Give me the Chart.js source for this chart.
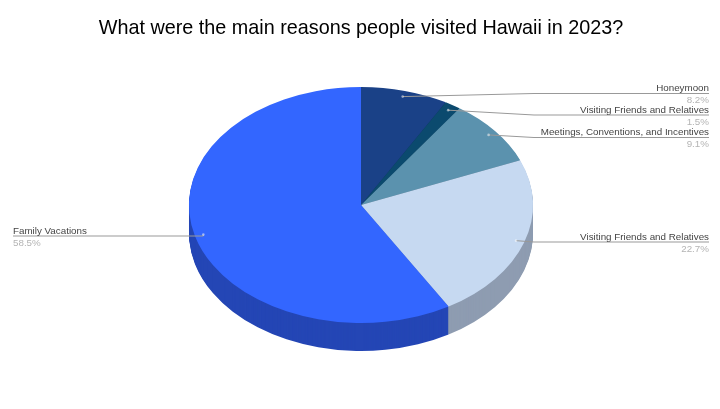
<!DOCTYPE html>
<html><head><meta charset="utf-8">
<style>html,body{margin:0;padding:0;background:#fff;width:720px;height:409px;overflow:hidden}
canvas{display:block;filter:blur(0.5px)}</style>
<script src="https://cdn.jsdelivr.net/npm/chart.js@4"></script></head>
<body><canvas id="c" width="720" height="409"></canvas>
<script>
const titleText = 'What were the main reasons people visited Hawaii in 2023?';
const categories = ['Honeymoon','Visiting Friends and Relatives','Meetings, Conventions, and Incentives','Visiting Friends and Relatives','Family Vacations'];
const shares = [8.2,1.5,9.1,22.7,58.5];
const faceColors = ['#1a4187','#0b4a6e','#5b92ae','#c6d9f1','#3366ff'];
const sideColors = ['#122e60','#08344e','#41677b','#8e9cb1','#2446b5'];
const labelLineY = [93.5,115,137.5,242,236];
const labelSide = ['right','right','right','right','left'];
const centerY = 205, radiusY = 118, depth = 28, textRight = 709, textLeft = 13;

const pie3d = {
  id:'pie3d',
  beforeDatasetDraw(chart,args){
    const ctx = chart.ctx, arcs = args.meta.data, a0 = arcs[0], sy = radiusY/a0.outerRadius;
    for(let d=depth; d>=1; d--){
      ctx.save();
      ctx.translate(a0.x, centerY+d); ctx.scale(1,sy); ctx.translate(-a0.x,-a0.y);
      arcs.forEach((a,i)=>{
        const o = a.options;
        a.options = Object.assign({}, o, {backgroundColor:sideColors[i], borderColor:sideColors[i], borderWidth:0, offset:o.offset||0, spacing:o.spacing||0, borderRadius:o.borderRadius||0, circular:true, borderAlign:o.borderAlign||'center', borderJoinStyle:o.borderJoinStyle||'round', borderDash:[], borderDashOffset:0, selfJoin:false});
        a.draw(ctx);
        a.options = o;
      });
      ctx.restore();
    }
    ctx.save();
    ctx.translate(a0.x, centerY); ctx.scale(1,sy); ctx.translate(-a0.x,-a0.y);
  },
  afterDatasetDraw(chart,args){
    const ctx = chart.ctx, arcs = args.meta.data;
    ctx.restore();
    const sy = radiusY/arcs[0].outerRadius;
    arcs.forEach((a,i)=>{
      const mid = (a.startAngle+a.endAngle)/2, r = a.outerRadius*0.95;
      const ax = a.x + Math.cos(mid)*r, ay = centerY + Math.sin(mid)*r*sy;
      const ly = labelLineY[i], right = labelSide[i]==='right';
      const ex = right ? textRight : textLeft;
      ctx.strokeStyle = '#999999'; ctx.lineWidth = 1;
      ctx.beginPath(); ctx.moveTo(ax,ay);
      if(right){ ctx.lineTo(Math.max(ax, ex-175),ly); } else { ctx.lineTo(ax,ly); }
      ctx.lineTo(ex,ly);
      ctx.stroke();
      ctx.fillStyle = 'rgba(255,255,255,0.5)';
      ctx.beginPath(); ctx.arc(ax,ay,1.3,0,Math.PI*2); ctx.fill();
      ctx.textAlign = labelSide[i]; ctx.textBaseline='alphabetic';
      ctx.font = '9.8px "Liberation Sans", Arial, sans-serif';
      ctx.fillStyle = '#444444'; ctx.fillText(categories[i], ex, ly-2.5);
      ctx.fillStyle = '#b4b4b4'; ctx.fillText(shares[i].toFixed(1)+'%', ex, ly+9.5);
    });
  }
};
new Chart(document.getElementById('c'),{
  type:'pie',
  data:{labels:categories,datasets:[{data:shares,backgroundColor:faceColors,borderWidth:0,clip:false}]},
  plugins:[pie3d],
  options:{
    responsive:false,animation:false,devicePixelRatio:1,
    layout:{padding:{left:2,right:0,top:0,bottom:24.6}},
    plugins:{legend:{display:false},tooltip:{enabled:false},
      title:{display:true,text:titleText,color:'#000',font:{family:'"Liberation Sans", Arial, sans-serif',size:19.8,weight:'normal'},padding:{top:16.5,bottom:0}}}
  }
});
</script>
</body></html>
